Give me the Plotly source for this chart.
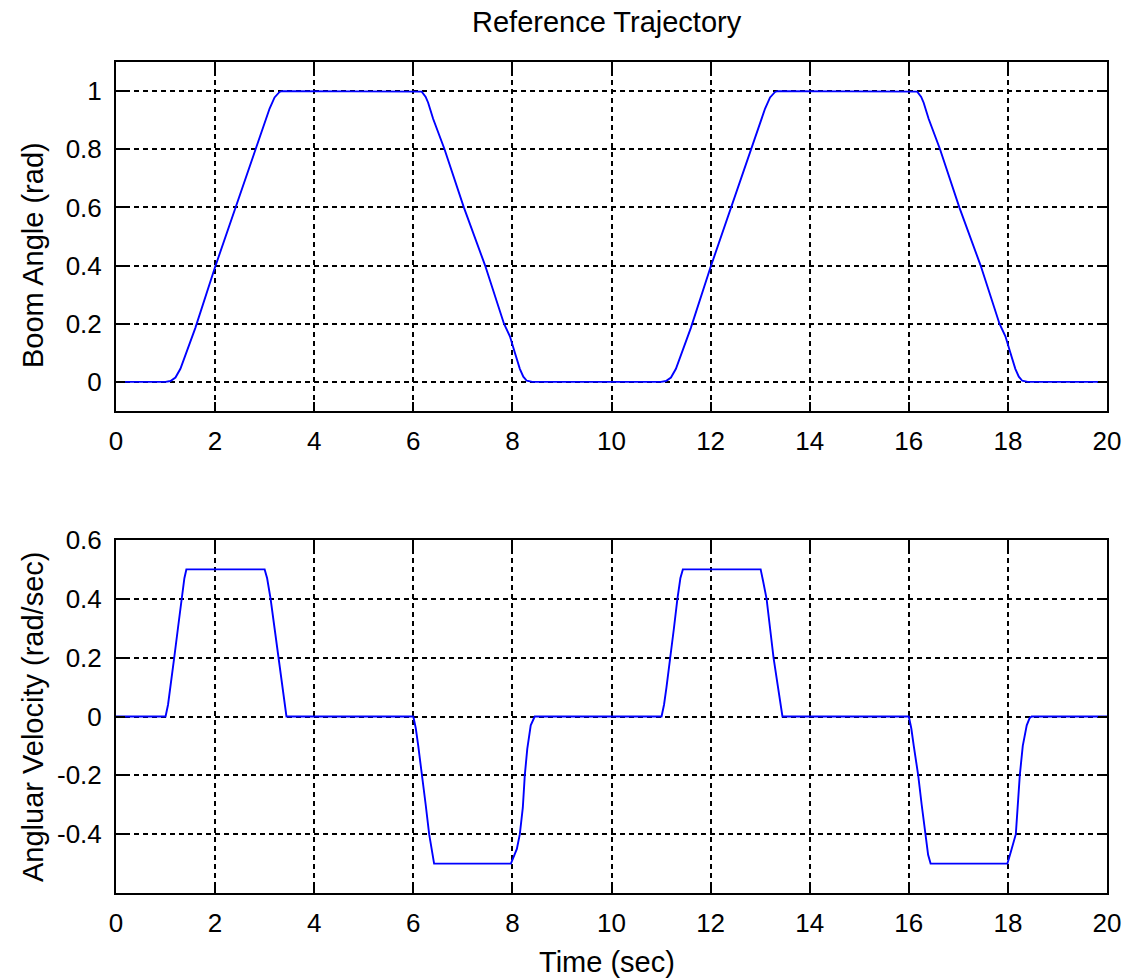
import plotly.graph_objects as go

# ---- data ----
t_angle = [0, 1.0, 1.1, 1.2, 1.3, 1.4, 1.5, 1.6, 2.0, 2.4, 2.8, 3.0, 3.1, 3.2, 3.3, 3.35,
           6.12, 6.17, 6.25, 6.3, 6.4, 6.5, 6.63, 7.02, 7.45, 7.83, 7.95, 8.05, 8.15, 8.22, 8.29, 8.4,
           11.0, 11.1, 11.2, 11.3, 11.4, 11.5, 11.6, 12.0, 12.4, 12.8, 13.0, 13.1, 13.2, 13.3, 13.35,
           16.12, 16.17, 16.25, 16.3, 16.4, 16.5, 16.63, 17.02, 17.45, 17.83, 17.95, 18.05, 18.15, 18.22, 18.29, 18.4,
           20]
angle = [0, 0, 0.003, 0.015, 0.045, 0.09, 0.14, 0.185, 0.395, 0.595, 0.79, 0.89, 0.94, 0.978, 0.997, 1.0,
         1.0, 0.998, 0.98, 0.96, 0.905, 0.86, 0.80, 0.60, 0.40, 0.20, 0.157, 0.10, 0.045, 0.018, 0.004, 0,
         0, 0.003, 0.015, 0.045, 0.09, 0.14, 0.185, 0.395, 0.595, 0.79, 0.89, 0.94, 0.978, 0.997, 1.0,
         1.0, 0.998, 0.98, 0.96, 0.905, 0.86, 0.80, 0.60, 0.40, 0.20, 0.157, 0.10, 0.045, 0.018, 0.004, 0,
         0]

t_vel = [0, 1.0, 1.05, 1.1, 1.175, 1.25, 1.325, 1.38, 1.42,
         3.0, 3.05, 3.12, 3.2, 3.275, 3.35, 3.41, 3.44,
         6.0, 6.05, 6.1, 6.18, 6.25, 6.32, 6.38, 6.42,
         7.97, 8.09, 8.15, 8.21, 8.25, 8.30, 8.37, 8.45,
         11.01, 11.06, 11.11, 11.19, 11.26, 11.33, 11.39, 11.44,
         13.01, 13.06, 13.13, 13.2, 13.27, 13.36, 13.42, 13.45,
         16.0, 16.05, 16.1, 16.19, 16.26, 16.33, 16.39, 16.44,
         17.99, 18.06, 18.16, 18.24, 18.3, 18.38, 18.44, 18.48,
         20]
vel = [0, 0, 0.04, 0.1, 0.2, 0.3, 0.4, 0.47, 0.5,
       0.5, 0.47, 0.4, 0.3, 0.2, 0.1, 0.03, 0,
       0, -0.04, -0.1, -0.2, -0.3, -0.4, -0.47, -0.5,
       -0.5, -0.45, -0.4, -0.31, -0.2, -0.11, -0.03, 0,
       0, 0.04, 0.1, 0.2, 0.3, 0.4, 0.47, 0.5,
       0.5, 0.46, 0.4, 0.3, 0.2, 0.1, 0.03, 0,
       0, -0.04, -0.1, -0.2, -0.3, -0.4, -0.47, -0.5,
       -0.5, -0.46, -0.4, -0.2, -0.1, -0.03, -0.005, 0,
       0]

x_ticks = [0, 2, 4, 6, 8, 10, 12, 14, 16, 18, 20]
x_tick_text = ["0", "2", "4", "6", "8", "10", "12", "14", "16", "18", "20"]
angle_ticks = [0, 0.2, 0.4, 0.6, 0.8, 1.0]
angle_tick_text = ["0", "0.2", "0.4", "0.6", "0.8", "1"]
vel_ticks = [-0.4, -0.2, 0, 0.2, 0.4, 0.6]
vel_tick_text = ["-0.4", "-0.2", "0", "0.2", "0.4", "0.6"]

title_text = "Reference Trajectory"
angle_label = "Boom Angle (rad)"
vel_label = "Angluar Velocity (rad/sec)"
time_label = "Time (sec)"

# ---- figure ----
W, H = 1124, 979
ml, mr, mt, mb = 116, 17, 62, 86
plot_h = H - mt - mb
plot_w = W - ml - mr
top_dom = [(893 - 411) / plot_h, 1.0]
bot_dom = [0.0, (893 - 540) / plot_h]

FONT = "Arial, Liberation Sans, sans-serif"

fig = go.Figure()
fig.add_trace(go.Scatter(x=t_angle, y=angle, mode="lines",
                         line=dict(color="#0000FF", width=1.9),
                         xaxis="x", yaxis="y", showlegend=False))
fig.add_trace(go.Scatter(x=t_vel, y=vel, mode="lines",
                         line=dict(color="#0000FF", width=1.9),
                         xaxis="x2", yaxis="y2", showlegend=False))

common = dict(showline=True, linecolor="black", linewidth=2, mirror="ticks",
              ticks="inside", ticklen=9, tickwidth=2, tickcolor="black",
              showgrid=True, gridcolor="black", gridwidth=1.5, griddash="5px,4px",
              zeroline=False, automargin=False,
              tickfont=dict(family=FONT, size=26, color="black"))

fig.update_layout(
    width=W, height=H,
    margin=dict(l=ml, r=mr, t=mt, b=mb, autoexpand=False),
    paper_bgcolor="white", plot_bgcolor="white",
    xaxis=dict(domain=[0, 1], anchor="y", range=[0, 20], tickvals=x_ticks,
               ticktext=x_tick_text, ticklabelstandoff=6, **common),
    yaxis=dict(domain=top_dom, anchor="x", range=[-0.1, 1.1], tickvals=angle_ticks,
               ticktext=angle_tick_text, ticklabelstandoff=7, **common),
    xaxis2=dict(domain=[0, 1], anchor="y2", range=[0, 20], tickvals=x_ticks,
                ticktext=x_tick_text, ticklabelstandoff=6, **common),
    yaxis2=dict(domain=bot_dom, anchor="x2", range=[-0.6, 0.6], tickvals=vel_ticks,
                ticktext=vel_tick_text, ticklabelstandoff=7, **common),
)

lab_font = dict(family=FONT, size=29, color="black")
fig.add_annotation(text=title_text, xref="paper", yref="paper", x=0.495,
                   y=1 + (mt - 22) / plot_h, xanchor="center", yanchor="middle",
                   showarrow=False, font=lab_font)
fig.add_annotation(text=time_label, xref="paper", yref="paper", x=0.495,
                   y=-(962 - 893) / plot_h, xanchor="center", yanchor="middle",
                   showarrow=False, font=lab_font)
fig.add_annotation(text=angle_label, xref="paper", yref="paper",
                   x=-(116 - 33) / plot_w, y=(893 - 255) / plot_h,
                   xanchor="center", yanchor="middle", textangle=-90,
                   showarrow=False, font=lab_font)
fig.add_annotation(text=vel_label, xref="paper", yref="paper",
                   x=-(116 - 33) / plot_w, y=(893 - 717) / plot_h,
                   xanchor="center", yanchor="middle", textangle=-90,
                   showarrow=False, font=lab_font)

fig.write_html("out.html")
